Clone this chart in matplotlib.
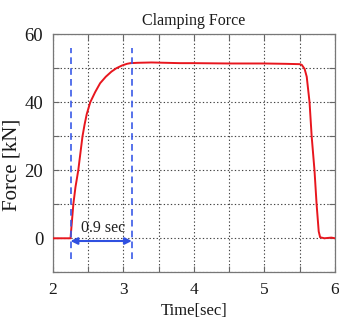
import matplotlib
matplotlib.use("Agg")
import matplotlib.pyplot as plt

# Data
time_s = [2.0, 2.25, 2.27, 2.29, 2.32, 2.36, 2.39, 2.42, 2.45, 2.48, 2.53, 2.60,
          2.67, 2.75, 2.83, 2.90, 2.98, 3.05, 3.10, 3.20, 3.40, 3.60, 3.80, 4.00,
          4.50, 5.00, 5.30, 5.50, 5.53, 5.57, 5.60, 5.64, 5.67, 5.71, 5.74, 5.77,
          5.79, 5.85, 5.95, 6.0]
force_kn = [0, 0, 5, 10, 15, 20, 25, 30, 33.5, 36.5, 40, 43,
            45.6, 47.5, 49, 50, 50.8, 51.3, 51.5, 51.6, 51.7, 51.6, 51.5, 51.5,
            51.4, 51.4, 51.3, 51.2, 51.0, 49.8, 47.5, 40, 30, 20, 10, 2,
            0.3, 0, 0.2, 0]

marker_t = [2.25, 3.12]
marker_span = [-6.2, 56.0]
arrow_level = -0.8
annot_text = "0.9 sec"
annot_pos = (2.71, 2.9)

xticks = [2, 3, 4, 5, 6]
yticks = [0, 20, 40, 60]

plt.rcParams['font.family'] = ['Liberation Serif', 'DejaVu Serif']

fig = plt.figure(figsize=(3.39, 3.23), dpi=100)
ax = fig.add_axes([0.156, 0.157, 0.832, 0.737])

ax.plot(time_s, force_kn, color='#e8161e', lw=1.4, zorder=3)

for t in marker_t:
    ax.plot([t, t], marker_span, color='#3a5ae8', lw=1.2, ls=(0, (4, 2.5)), zorder=4)

ax.annotate('', xy=(marker_t[1], arrow_level), xytext=(marker_t[0], arrow_level),
            arrowprops=dict(arrowstyle='<|-|>', color='#2f50e0', lw=1.5,
                            mutation_scale=10, shrinkA=0, shrinkB=0), zorder=5)
ax.text(annot_pos[0], annot_pos[1], annot_text, ha='center', va='center',
        fontsize=11.5, color='#222222', zorder=5)

ax.set_xlim(2, 6)
ax.set_ylim(-10, 60)
xt_all = [2, 2.5, 3, 3.5, 4, 4.5, 5, 5.5, 6]
yt_all = [-10, 0, 10, 20, 30, 40, 50, 60]
ax.set_xticks(xt_all)
ax.set_xticklabels([str(v) if v in xticks else '' for v in xt_all])
ax.set_yticks(yt_all)
ax.set_yticklabels([str(v) if v in yticks else '' for v in yt_all])

ax.tick_params(direction='in', top=True, right=True, length=4, width=0.8,
               color='#666666', labelcolor='#1a1a1a')
ax.tick_params(axis='x', labelsize=12.5, pad=7)
ax.tick_params(axis='y', labelsize=13.5, pad=7)

ax.grid(True, color='#444444', ls=(0, (1.2, 2.0)), lw=0.8)
for s in ax.spines.values():
    s.set_color('#777777')
    s.set_linewidth(0.9)

ax.set_title('Clamping Force', fontsize=11.5, color='#1a1a1a', pad=7)
ax.set_xlabel('Time[sec]', fontsize=12, color='#1a1a1a')
ax.set_ylabel('Force [kN]', fontsize=15, color='#1a1a1a')
ax.yaxis.set_label_coords(-0.111, 0.45)
ax.xaxis.set_label_coords(0.5, -0.13)

fig.savefig('out.png', dpi=100)
